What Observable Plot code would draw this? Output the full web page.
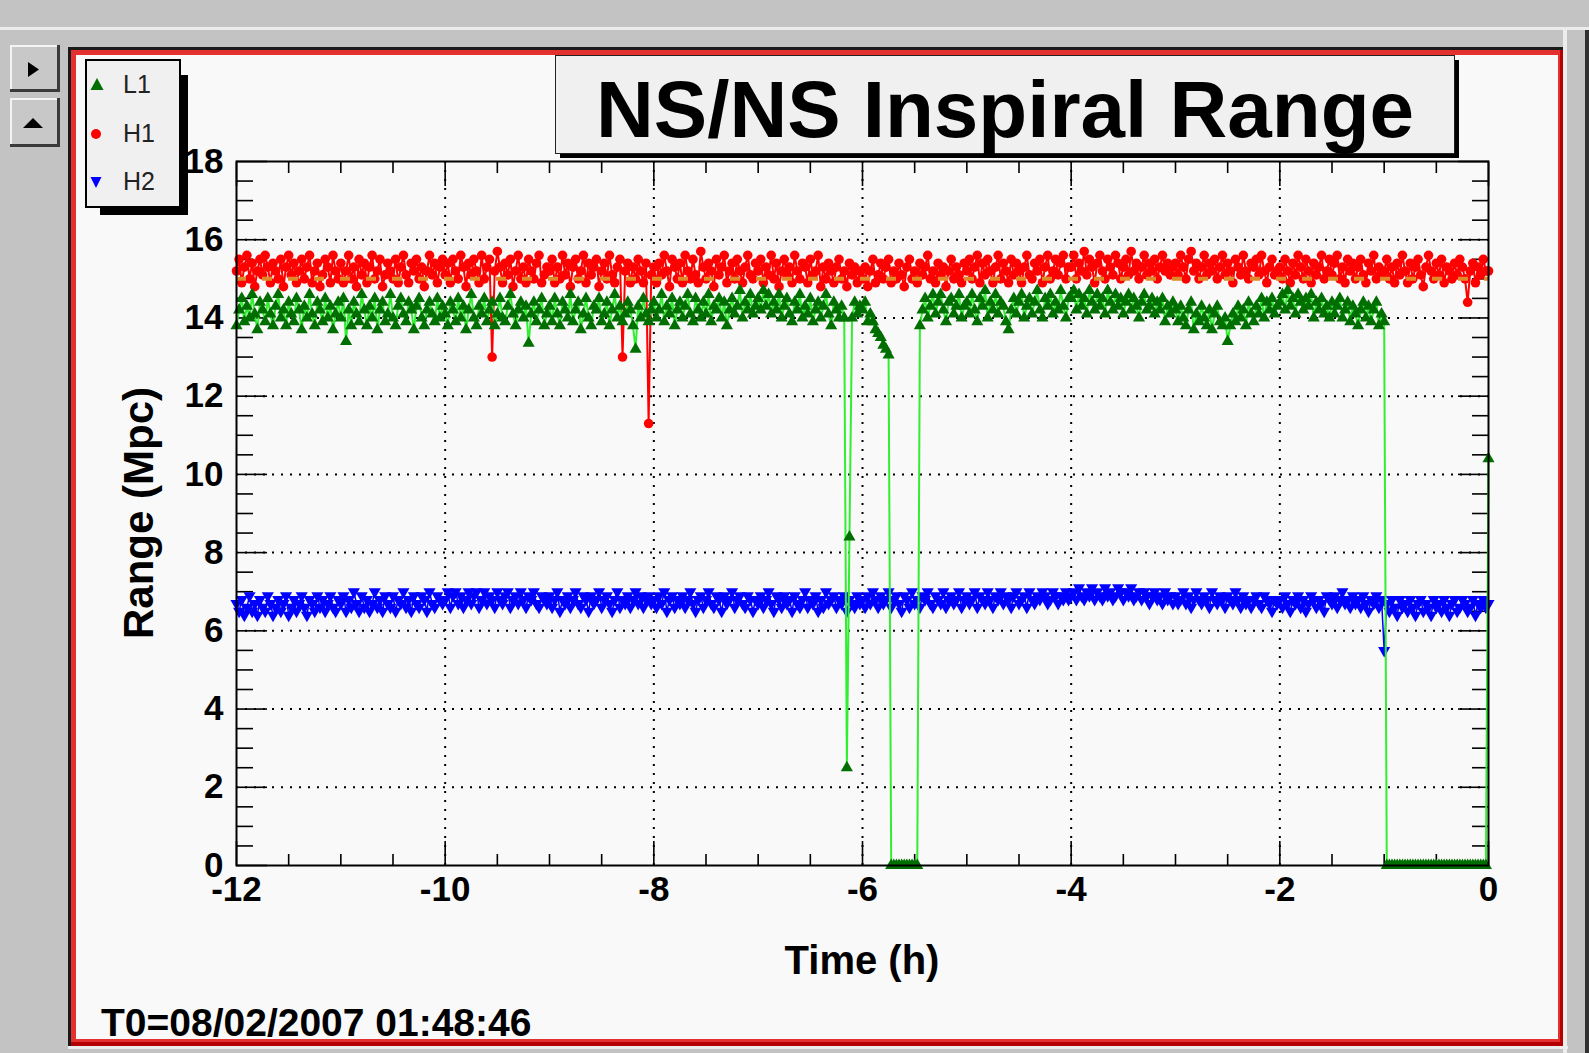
<!DOCTYPE html>
<html>
<head>
<meta charset="utf-8">
<script src="https://cdn.jsdelivr.net/npm/d3@7"></script>
<script src="https://cdn.jsdelivr.net/npm/@observablehq/plot@0.6"></script>
<style>
html, body { margin: 0; padding: 0; overflow: hidden; }
body { width: 1589px; height: 1053px; position: relative; background: #c3c3c3; font-family: "Liberation Sans", Arial, sans-serif; }
.layer { position: absolute; left: 0; top: 0; }
#bg { z-index: 0; }
#chart { z-index: 1; }
#overlay { z-index: 2; }
#chart svg { display: block; }
</style>
</head>
<body>
<svg id="bg" class="layer" width="1589" height="1053">
  <rect x="0" y="0" width="1589" height="1053" fill="#c3c3c3"/>
  <rect x="0" y="27" width="1589" height="3" fill="#ececec"/>
  <rect x="1563" y="30" width="4" height="1023" fill="#ececec"/>
  <rect x="1585" y="30" width="4" height="1023" fill="#303030"/>
  <rect x="68" y="47" width="1495" height="999" fill="#1a1a1a"/>
  <rect x="71" y="50" width="1492" height="996" fill="#b40000"/>
  <rect x="71" y="50" width="1489" height="992" fill="#e53030"/>
  <rect x="76" y="55" width="1482" height="984" fill="#f9f9f9"/>
  <rect x="68" y="1046" width="1500" height="3" fill="#ececec"/>
  <g>
    <rect x="10" y="45" width="50" height="47" fill="#3a3a3a"/>
    <rect x="10" y="45" width="47" height="44" fill="#f4f4f4"/>
    <rect x="12" y="47" width="45" height="42" fill="#c8c8c8"/>
    <polygon points="28,62 39,69.5 28,77" fill="#000"/>
    <rect x="10" y="98" width="50" height="49" fill="#3a3a3a"/>
    <rect x="10" y="98" width="47" height="46" fill="#f4f4f4"/>
    <rect x="12" y="100" width="45" height="44" fill="#c8c8c8"/>
    <polygon points="23,128 33,118 43,128" fill="#000"/>
  </g>
</svg>
<div id="chart" class="layer"></div>
<svg id="overlay" class="layer" width="1589" height="1053" font-family="'Liberation Sans', Arial, sans-serif">
  <rect x="560" y="60" width="899" height="98" fill="#000"/>
  <rect x="555.5" y="55.5" width="899" height="98" fill="#f0f0f0" stroke="#222" stroke-width="1"/>
  <text id="title" x="1005" y="137" text-anchor="middle" font-size="80" font-weight="bold" fill="#000"></text>
  <rect x="100" y="75" width="88" height="140" fill="#000"/>
  <rect x="86" y="60" width="94" height="147" fill="#f0f0f0" stroke="#000" stroke-width="2"/>
  <g id="legend"></g>
  <text id="ylabel" transform="translate(153,513) rotate(-90)" text-anchor="middle" font-size="42" font-weight="bold" fill="#000"></text>
  <text id="xlabel" x="862" y="974" text-anchor="middle" font-size="40" font-weight="bold" fill="#000"></text>
  <text id="footer" x="101" y="1036" font-size="39" font-weight="bold" fill="#000"></text>
</svg>
<script>
// ---------------- data ----------------
const titleText = "NS/NS Inspiral Range";
const xLabelText = "Time (h)";
const yLabelText = "Range (Mpc)";
const footerText = "T0=08/02/2007 01:48:46";
const seriesNames = ["L1", "H1", "H2"];
const seriesColors = {L1: "#006e00", H1: "#ff0000", H2: "#0000ff"};
const lineColors = {L1: "#30ee30", H1: "#ff0000", H2: "#0000ff"};

// sampling of the time axis (hours before T0): one sample every 1.5 min
const tStart = -12;
const tStep = 0.025;

// H1 range (Mpc), 40 samples per hour
const h1Range = [
  // -12 h
  15.2,15.5,14.9,15.3,15.6,15.0,15.4,14.8,15.2,15.5,
  15.1,15.6,15.3,14.9,15.4,15.2,15.0,15.5,14.8,15.3,
  15.6,15.1,15.4,14.9,15.2,15.5,15.0,15.3,15.6,14.9,
  15.2,15.4,14.8,15.1,15.5,15.3,14.9,15.6,15.2,15.0,
  // -11 h
  15.4,14.9,15.2,15.6,15.0,15.3,14.8,15.5,15.1,15.4,
  14.9,15.3,15.6,15.0,15.2,15.5,14.8,15.1,15.4,15.2,
  15.0,15.5,14.9,15.3,15.6,15.1,14.9,15.4,15.2,15.5,
  15.0,15.3,14.8,15.2,15.6,15.1,15.4,14.9,15.3,15.5,
  // -10 h
  15.1,15.4,14.9,15.5,15.2,15.0,15.6,15.3,14.8,15.4,
  15.1,15.5,15.2,14.9,15.6,15.0,15.3,15.5,13.0,15.2,
  15.7,15.3,14.9,15.4,15.1,15.5,14.8,15.2,15.6,15.0,
  15.3,14.9,15.5,15.2,15.0,15.4,15.6,14.9,15.1,15.3,
  // -9 h
  15.2,15.5,14.9,15.3,15.0,15.6,15.1,15.4,14.8,15.3,
  15.5,15.0,15.2,15.6,14.9,15.4,15.1,15.3,15.5,14.8,
  15.2,15.4,15.0,15.6,15.1,14.9,15.3,15.5,13.0,15.2,
  15.4,14.9,15.3,15.0,15.5,15.2,14.9,15.4,11.3,15.1,
  // -8 h
  15.3,14.9,15.4,15.1,15.6,15.2,14.8,15.5,15.3,15.0,
  15.4,14.9,15.6,15.2,15.0,15.5,15.1,14.9,15.7,15.3,
  15.0,15.4,15.2,14.8,15.5,15.1,15.3,15.6,14.9,15.2,
  15.4,15.0,15.5,15.2,14.9,15.3,15.6,15.1,15.0,15.4,
  // -7 h
  15.2,15.5,14.9,15.3,15.1,15.6,15.0,15.4,14.8,15.2,
  15.5,15.1,15.3,14.9,15.6,15.2,15.0,15.4,15.3,14.9,
  15.5,15.1,15.2,15.6,14.8,15.3,15.0,15.4,15.2,14.9,
  15.3,15.5,15.0,15.2,14.8,15.4,15.1,15.3,14.9,15.2,
  // -6 h
  15.0,15.3,14.8,15.2,15.5,14.9,15.1,15.4,15.0,15.3,
  15.5,14.9,15.2,15.0,15.4,15.1,14.8,15.3,15.5,15.0,
  15.2,14.9,15.4,15.1,15.3,15.6,15.0,15.2,14.9,15.4,
  15.1,15.3,14.8,15.2,15.5,15.0,15.3,15.1,14.9,15.4,
  // -5 h
  15.2,15.5,15.0,15.3,15.6,14.9,15.4,15.1,15.5,15.2,
  14.9,15.3,15.6,15.0,15.4,15.2,14.9,15.5,15.1,15.4,
  15.2,14.9,15.3,15.6,15.1,15.0,15.4,15.2,15.5,14.9,
  15.3,15.6,15.0,15.2,15.5,15.1,15.4,15.6,15.0,15.3,
  // -4 h
  15.3,15.6,15.0,15.4,15.2,15.7,15.1,15.5,15.3,14.9,
  15.4,15.6,15.2,15.0,15.5,15.3,15.1,15.6,15.4,15.0,
  15.3,15.5,15.1,15.7,15.2,15.4,15.0,15.3,15.6,15.1,
  15.4,15.2,15.5,15.0,15.3,15.6,15.2,15.4,15.1,15.3,
  // -3 h
  15.4,15.1,15.6,15.3,15.0,15.5,15.7,15.2,15.4,15.0,
  15.3,15.6,15.1,15.4,15.2,15.5,15.0,15.3,15.6,15.1,
  15.4,15.2,14.9,15.5,15.3,15.1,15.6,15.2,15.0,15.4,
  15.3,15.5,15.1,15.6,15.2,14.9,15.3,15.5,15.1,15.2,
  // -2 h
  15.3,15.0,15.5,15.2,14.9,15.4,15.1,15.6,15.3,15.0,
  15.5,15.2,14.9,15.4,15.1,15.3,15.6,15.0,15.2,15.5,
  15.1,15.4,15.6,15.0,15.3,14.9,15.5,15.2,15.4,15.0,
  15.3,15.5,15.1,14.9,15.4,15.2,15.6,15.0,15.3,15.1,
  // -1 h
  15.2,15.5,15.0,15.3,14.9,15.4,15.1,15.6,15.2,14.9,
  15.4,15.0,15.3,15.5,15.1,14.8,15.3,15.6,15.2,15.0,
  15.4,15.1,15.5,14.9,15.3,15.2,15.0,15.4,15.1,15.5,
  15.3,15.0,14.4,15.2,15.4,14.9,15.3,15.1,15.5,15.2,
  // 0 h
  15.2
];

// L1 range (Mpc), 40 samples per hour
const l1Range = [
  // -12 h
  13.8,14.2,14.5,13.9,14.3,14.0,14.6,14.1,13.7,14.4,
  14.2,13.9,14.5,14.1,13.8,14.3,14.6,14.0,14.2,13.8,
  14.4,14.1,13.9,14.5,14.2,13.7,14.3,14.0,14.6,14.1,
  13.8,14.4,14.2,13.9,14.5,14.0,14.3,13.7,14.1,14.4,
  // -11 h
  14.0,14.5,13.4,14.2,13.8,14.4,14.1,13.9,14.6,14.2,
  13.8,14.3,14.0,14.5,13.7,14.2,14.4,13.9,14.1,14.6,
  14.0,13.8,14.3,14.5,14.1,13.9,14.4,14.2,13.7,14.3,
  14.5,14.0,13.8,14.2,14.4,14.1,13.9,14.5,14.0,14.3,
  // -10 h
  14.1,13.8,14.4,14.2,13.9,14.5,14.0,14.3,13.7,14.2,
  14.6,14.0,13.8,14.3,14.1,14.5,13.9,14.2,14.4,13.8,
  14.1,14.5,14.0,13.9,14.3,14.6,14.1,13.8,14.2,14.4,
  14.0,14.3,13.35,14.1,14.4,13.9,14.2,14.5,13.8,14.1,
  // -9 h
  14.3,13.9,14.5,14.1,13.8,14.4,14.2,14.0,14.6,13.9,
  14.2,14.4,13.7,14.1,14.5,14.0,13.8,14.3,14.2,14.5,
  13.9,14.1,14.4,13.8,14.2,14.6,14.0,14.3,13.9,14.1,
  14.4,14.2,13.8,13.2,14.3,14.0,14.5,14.1,13.9,14.2,
  // -8 h
  14.4,14.0,14.2,14.6,13.9,14.3,14.1,14.5,13.8,14.2,
  14.4,14.0,14.3,14.6,14.1,13.9,14.5,14.2,14.0,14.4,
  14.1,14.6,13.9,14.3,14.2,14.5,14.0,14.4,13.8,14.2,
  14.5,14.1,14.3,14.7,14.0,14.4,14.2,14.6,14.1,14.3,
  // -7 h
  14.5,14.2,14.7,14.3,14.6,14.1,14.4,14.2,14.6,14.0,
  14.3,14.5,14.1,13.9,14.4,14.2,14.6,14.0,14.3,14.1,
  14.5,13.9,14.2,14.4,14.0,14.3,14.6,14.1,13.8,14.4,
  14.2,14.0,14.3,14.0,2.5,8.4,14.0,14.4,14.1,14.3,
  // -6 h
  14.2,14.4,13.9,14.1,13.9,13.7,13.6,13.5,13.3,13.2,
  13.05,0,0,0,0,0,0,0,0,0,
  0,0,13.8,14.2,14.5,14.0,14.3,14.6,14.1,14.4,
  14.6,14.2,13.9,14.4,14.5,14.1,14.3,14.6,14.0,14.3,
  // -5 h
  14.4,14.1,14.6,14.2,13.9,14.5,14.3,14.7,14.0,14.4,
  14.2,14.6,14.1,14.4,14.3,13.9,13.7,14.2,14.5,14.1,
  14.4,14.6,14.0,14.3,14.5,14.1,14.4,14.7,14.2,14.0,
  14.5,14.3,14.6,14.1,14.4,14.2,14.7,14.3,14.0,14.5,
  // -4 h
  14.5,14.7,14.2,14.6,14.3,14.5,14.1,14.7,14.4,14.2,
  14.6,14.3,14.5,14.1,14.7,14.4,14.2,14.6,14.3,14.5,
  14.1,14.4,14.6,14.2,14.5,14.3,14.0,14.4,14.6,14.2,
  14.3,14.5,14.1,14.4,14.2,14.5,13.9,14.3,14.1,14.4,
  // -3 h
  14.2,13.9,14.3,14.0,13.8,14.2,14.4,13.7,14.1,13.9,
  14.3,14.0,13.8,14.2,13.7,14.1,14.3,13.9,13.8,14.0,
  13.4,13.8,14.1,13.9,14.3,14.0,14.2,13.8,14.4,14.1,
  13.9,14.3,14.1,14.5,14.0,14.4,14.2,14.5,14.1,14.3,
  // -2 h
  14.4,14.6,14.2,14.7,14.3,14.5,14.1,14.6,14.4,14.2,
  14.5,14.3,14.6,14.0,14.4,14.2,14.5,14.1,14.3,14.0,
  14.4,14.1,14.3,14.5,14.0,14.2,14.4,13.9,14.3,14.1,
  13.8,14.2,14.4,14.0,14.3,13.9,14.2,14.4,13.8,14.1,
  // -1 h
  13.9,0,0,0,0,0,0,0,0,0,
  0,0,0,0,0,0,0,0,0,0,
  0,0,0,0,0,0,0,0,0,0,
  0,0,0,0,0,0,0,0,0,0,
  // 0 h
  10.4
];

// H2 range (Mpc), 40 samples per hour
const h2Range = [
  // -12 h
  6.7,6.5,6.8,6.4,6.6,6.9,6.5,6.7,6.4,6.8,
  6.6,6.5,6.9,6.7,6.4,6.6,6.8,6.5,6.7,6.9,
  6.4,6.6,6.8,6.5,6.7,6.9,6.6,6.4,6.8,6.7,
  6.5,6.9,6.6,6.8,6.5,6.7,6.9,6.6,6.5,6.8,
  // -11 h
  6.7,6.9,6.5,6.8,6.6,7.0,6.7,6.5,6.9,6.6,
  6.8,6.5,6.7,7.0,6.6,6.8,6.5,6.9,6.7,6.6,
  6.9,6.5,6.8,6.7,7.0,6.6,6.8,6.5,6.9,6.7,
  6.6,6.9,6.8,6.5,7.0,6.7,6.6,6.9,6.8,6.7,
  // -10 h
  6.8,7.0,6.6,6.9,7.0,6.7,6.9,6.6,6.8,7.0,
  6.7,6.9,7.0,6.6,6.8,7.0,6.7,6.9,6.8,6.6,
  7.0,6.8,6.7,6.9,7.0,6.6,6.8,6.9,6.7,7.0,
  6.8,6.6,6.9,6.8,7.0,6.7,6.6,6.9,6.8,6.7,
  // -9 h
  6.9,6.6,6.8,7.0,6.5,6.8,6.7,6.9,6.6,6.8,
  7.0,6.7,6.6,6.9,6.8,6.5,6.9,6.7,6.8,7.0,
  6.6,6.8,6.9,6.7,6.5,6.8,7.0,6.6,6.8,6.7,
  6.9,6.6,6.8,7.0,6.7,6.9,6.6,6.8,6.9,6.7,
  // -8 h
  6.8,6.6,6.9,6.7,7.0,6.5,6.8,6.9,6.6,6.8,
  6.7,6.9,6.6,6.8,7.0,6.7,6.5,6.8,6.9,6.6,
  6.8,7.0,6.7,6.6,6.9,6.8,6.5,6.9,6.7,6.8,
  7.0,6.6,6.8,6.9,6.7,6.6,6.9,6.8,6.5,6.8,
  // -7 h
  6.7,6.9,6.6,6.8,7.0,6.7,6.5,6.9,6.8,6.6,
  6.9,6.7,6.8,6.5,6.9,6.7,6.6,6.8,7.0,6.6,
  6.8,6.7,6.9,6.5,6.8,6.6,7.0,6.7,6.8,6.9,
  6.6,6.8,6.7,6.9,6.5,6.8,6.7,6.6,6.9,6.7,
  // -6 h
  6.8,6.6,6.9,6.7,7.0,6.8,6.6,6.9,6.7,6.8,
  7.0,6.6,6.8,6.9,6.7,6.5,6.9,6.8,6.6,7.0,
  6.7,6.8,6.6,6.9,6.8,7.0,6.7,6.6,6.9,6.8,
  6.7,7.0,6.6,6.8,6.9,6.7,6.8,7.0,6.6,6.8,
  // -5 h
  6.9,6.7,6.8,7.0,6.6,6.9,6.8,6.7,7.0,6.8,
  6.6,6.9,6.8,7.0,6.7,6.9,6.8,6.6,6.9,7.0,
  6.7,6.8,6.9,6.6,7.0,6.8,6.7,6.9,6.8,7.0,
  6.9,6.7,6.8,7.0,6.9,6.7,6.9,6.8,7.0,6.8,
  // -4 h
  6.9,7.0,6.8,7.1,6.9,6.8,7.0,6.9,7.1,6.8,
  7.0,6.9,6.8,7.1,6.9,7.0,6.8,6.9,7.1,7.0,
  6.8,7.0,6.9,7.1,6.8,6.9,7.0,6.8,7.0,6.9,
  6.7,6.9,7.0,6.8,6.9,6.7,7.0,6.8,6.9,6.7,
  // -3 h
  6.9,6.7,6.8,7.0,6.7,6.9,6.6,6.8,7.0,6.8,
  6.7,6.9,6.8,6.6,7.0,6.8,6.7,6.9,6.8,6.6,
  6.9,6.8,6.7,7.0,6.8,6.6,6.9,6.7,6.8,6.6,
  6.8,6.9,6.7,6.6,6.9,6.8,6.7,6.5,6.8,6.7,
  // -2 h
  6.8,6.6,6.9,6.7,6.5,6.8,6.7,6.9,6.6,6.8,
  6.5,6.7,6.9,6.8,6.6,6.8,6.7,6.5,6.9,6.8,
  6.7,6.9,6.6,6.8,7.0,6.7,6.8,6.6,6.9,6.7,
  6.8,6.6,6.9,6.7,6.5,6.8,6.7,6.9,6.6,6.8,
  // -1 h
  5.5,6.7,6.5,6.8,6.6,6.4,6.8,6.6,6.7,6.5,
  6.8,6.6,6.4,6.7,6.8,6.5,6.7,6.6,6.4,6.8,
  6.6,6.7,6.5,6.8,6.6,6.4,6.7,6.8,6.5,6.6,
  6.8,6.7,6.5,6.6,6.8,6.4,6.7,6.6,6.8,6.6,
  // 0 h
  6.7
];

// H1 reference level (orange dashed line)
const h1Reference = [15.0];

// axis ticks
const xMajorTicks = [-12, -10, -8, -6, -4, -2, 0];
const xMinorTicks = [-11.5, -11, -10.5, -9.5, -9, -8.5, -7.5, -7, -6.5, -5.5, -5, -4.5, -3.5, -3, -2.5, -1.5, -1, -0.5];
const yMajorTicks = [0, 2, 4, 6, 8, 10, 12, 14, 16, 18];
const yMinorTicks = [0.5, 1, 1.5, 2.5, 3, 3.5, 4.5, 5, 5.5, 6.5, 7, 7.5, 8.5, 9, 9.5, 10.5, 11, 11.5, 12.5, 13, 13.5, 14.5, 15, 15.5, 16.5, 17, 17.5];
const xGridTicks = [-10, -8, -6, -4, -2];
const yGridTicks = [2, 4, 6, 8, 10, 12, 14, 16];

// ---------------- build ----------------
const toRows = (vals) => vals.map((v, i) => ({t: +(tStart + i * tStep).toFixed(3), v}));
const h1Data = toRows(h1Range);
const l1Data = toRows(l1Range);
const h2Data = toRows(h2Range);

const triangleDown = {
  draw(context, size) {
    const y = -Math.sqrt(size / (Math.sqrt(3) * 3));
    const s3 = Math.sqrt(3);
    context.moveTo(0, -y * 2);
    context.lineTo(-s3 * y, y);
    context.lineTo(s3 * y, y);
    context.closePath();
  }
};

const fmt = (d) => String(d);
const noText = () => "";
const fontFamily = "'Liberation Sans', Arial, sans-serif";

const chart = Plot.plot({
  width: 1589,
  height: 1053,
  marginLeft: 236,
  marginRight: 101,
  marginTop: 161,
  marginBottom: 188,
  x: {domain: [-12, 0]},
  y: {domain: [0, 18]},
  style: {background: "transparent", fontFamily, color: "black", overflow: "visible"},
  marks: [
    Plot.gridX(xGridTicks, {stroke: "black", strokeOpacity: 1, strokeWidth: 2, strokeDasharray: "2,7"}),
    Plot.gridY(yGridTicks, {stroke: "black", strokeOpacity: 1, strokeWidth: 2, strokeDasharray: "2,7"}),
    Plot.axisX(xMajorTicks, {anchor: "bottom", tickSize: 0, tickPadding: 11, tickFormat: fmt, fontSize: 35, fontWeight: "bold", label: null}),
    Plot.axisY(yMajorTicks, {anchor: "left", tickSize: 0, tickPadding: 13, tickFormat: fmt, fontSize: 35, fontWeight: "bold", label: null}),
    Plot.axisX(xMajorTicks, {anchor: "bottom", tickSize: -24, strokeWidth: 1.6, tickFormat: noText, fill: "none", label: null}),
    Plot.axisX(xMinorTicks, {anchor: "bottom", tickSize: -11, strokeWidth: 1.6, tickFormat: noText, fill: "none", label: null}),
    Plot.axisX(xMajorTicks, {anchor: "top", tickSize: -24, strokeWidth: 1.6, tickFormat: noText, fill: "none", label: null}),
    Plot.axisX(xMinorTicks, {anchor: "top", tickSize: -11, strokeWidth: 1.6, tickFormat: noText, fill: "none", label: null}),
    Plot.axisY(yMajorTicks, {anchor: "left", tickSize: -31, strokeWidth: 1.6, tickFormat: noText, fill: "none", label: null}),
    Plot.axisY(yMinorTicks, {anchor: "left", tickSize: -17, strokeWidth: 1.6, tickFormat: noText, fill: "none", label: null}),
    Plot.axisY(yMajorTicks, {anchor: "right", tickSize: -31, strokeWidth: 1.6, tickFormat: noText, fill: "none", label: null}),
    Plot.axisY(yMinorTicks, {anchor: "right", tickSize: -17, strokeWidth: 1.6, tickFormat: noText, fill: "none", label: null}),
    // H2
    Plot.line(h2Data, {x: "t", y: "v", stroke: lineColors.H2, strokeWidth: 1.5}),
    Plot.dot(h2Data, {x: "t", y: "v", symbol: triangleDown, r: 4.5, fill: seriesColors.H2}),
    // H1
    Plot.line(h1Data, {x: "t", y: "v", stroke: lineColors.H1, strokeWidth: 2}),
    Plot.dot(h1Data, {x: "t", y: "v", symbol: "circle", r: 4.8, fill: seriesColors.H1}),
    Plot.ruleY(h1Reference, {stroke: "#e0892a", strokeWidth: 4, strokeDasharray: "10,16"}),
    // L1
    Plot.line(l1Data, {x: "t", y: "v", stroke: lineColors.L1, strokeWidth: 2}),
    Plot.dot(l1Data, {x: "t", y: "v", symbol: "triangle", r: 4.5, fill: seriesColors.L1}),
    Plot.frame({stroke: "black", strokeWidth: 2})
  ]
});
document.getElementById("chart").appendChild(chart);

// ---------------- text & legend ----------------
document.getElementById("title").textContent = titleText;
document.getElementById("xlabel").textContent = xLabelText;
document.getElementById("ylabel").textContent = yLabelText;
document.getElementById("footer").textContent = footerText;

const ns = "http://www.w3.org/2000/svg";
const legend = document.getElementById("legend");
const legendY = {L1: 85, H1: 134, H2: 182};
seriesNames.forEach((name) => {
  const cy = legendY[name];
  let shape;
  if (name === "L1") {
    shape = document.createElementNS(ns, "polygon");
    shape.setAttribute("points", `97,${cy - 7} 90.5,${cy + 5} 103.5,${cy + 5}`);
  } else if (name === "H1") {
    shape = document.createElementNS(ns, "circle");
    shape.setAttribute("cx", 96); shape.setAttribute("cy", cy); shape.setAttribute("r", 5);
  } else {
    shape = document.createElementNS(ns, "polygon");
    shape.setAttribute("points", `96,${cy + 6} 90.5,${cy - 5} 101.5,${cy - 5}`);
  }
  shape.setAttribute("fill", seriesColors[name]);
  legend.appendChild(shape);
  const label = document.createElementNS(ns, "text");
  label.setAttribute("x", 123);
  label.setAttribute("y", cy + 8);
  label.setAttribute("font-size", 25);
  label.setAttribute("fill", "#222");
  label.textContent = name;
  legend.appendChild(label);
});
</script>
</body>
</html>
